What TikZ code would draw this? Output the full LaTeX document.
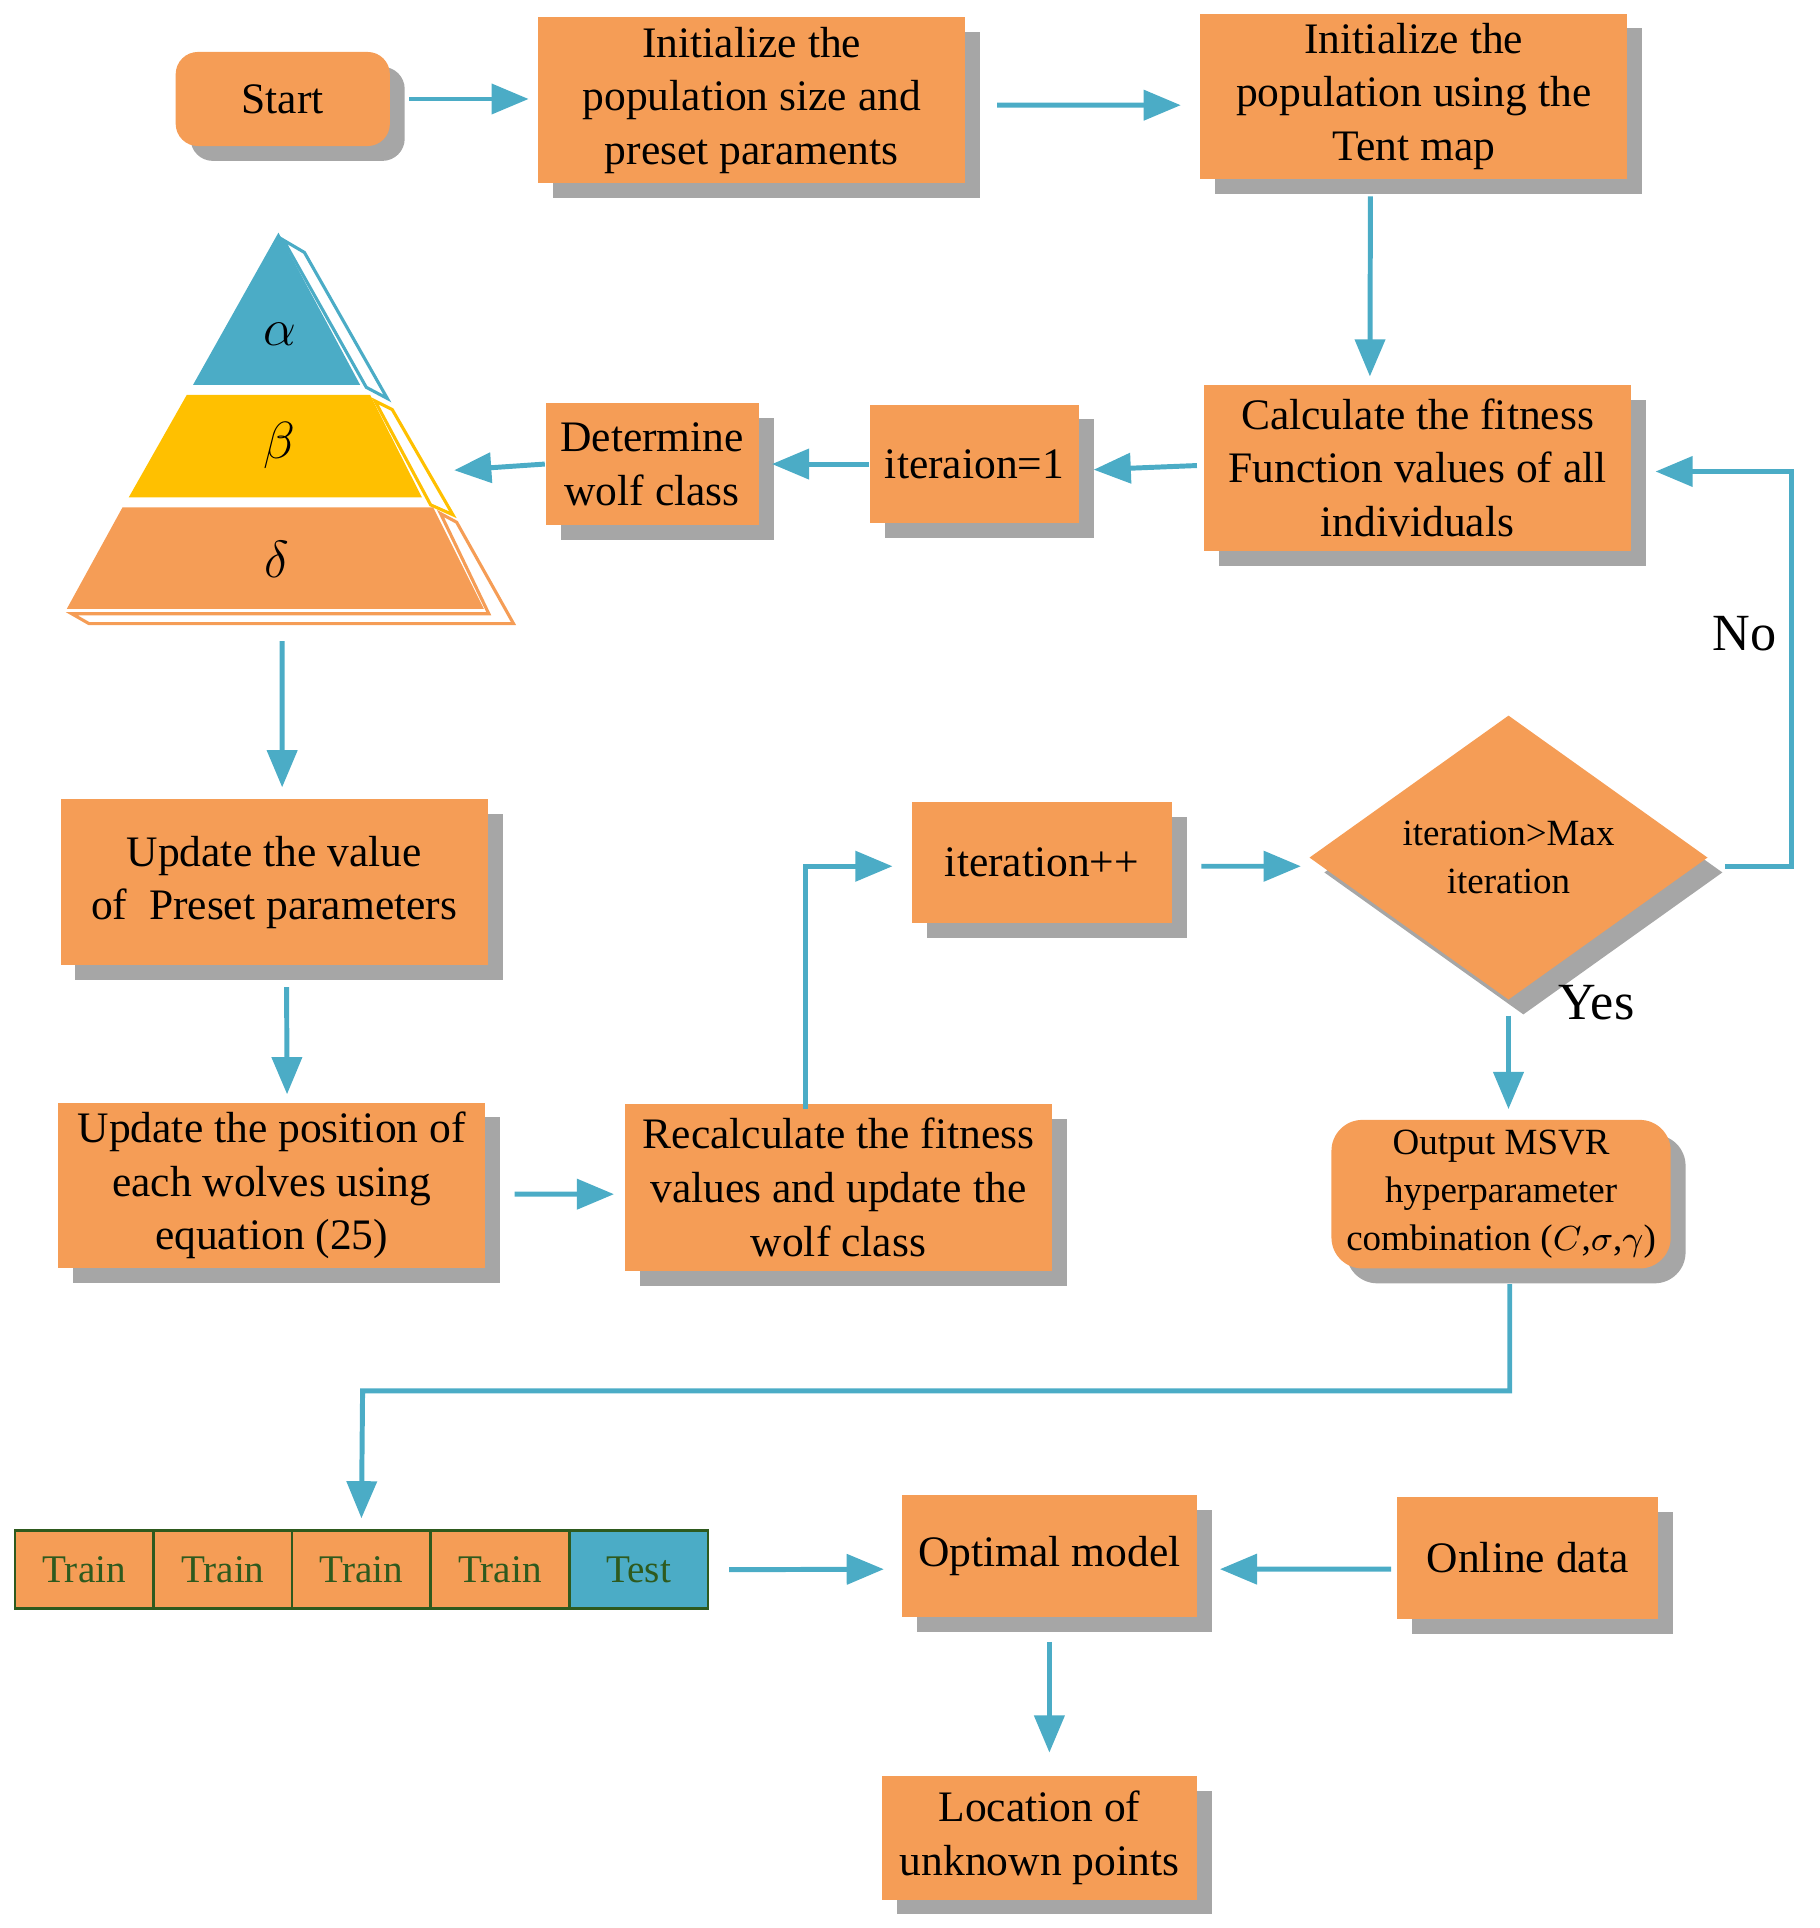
\documentclass[tikz,border=0pt]{standalone}
\usepackage{fontspec}
\setmainfont{Liberation Serif}
\usetikzlibrary{arrows.meta,shapes.geometric,shadows}
\definecolor{org}{HTML}{F59D56}
\definecolor{blu}{HTML}{4BACC6}
\definecolor{yel}{HTML}{FFC000}
\definecolor{shd}{HTML}{A6A6A6}
\definecolor{dgr}{HTML}{2E5A1E}
\begin{document}
\begin{tikzpicture}[x=0.01cm,y=-0.01cm,
  box/.style={fill=org,align=center,inner sep=0pt,font=\fontsize{10}{12.3}\selectfont,
    drop shadow={shadow xshift=0.12cm,shadow yshift=-0.12cm,fill=shd,opacity=1}},
  arr/.style={draw=blu,line width=0.04cm,-{Triangle[length=0.3cm,width=0.24cm]}},
  cell/.style={draw=dgr,line width=0.6pt,minimum width=1.12cm,minimum height=0.63cm,inner sep=0pt,
    text=dgr,font=\fontsize{9}{10}\selectfont}]
\useasboundingbox (0,0) rectangle (1470,1558);
% nodes
\node[box,rounded corners=0.18cm,minimum width=1.73cm,minimum height=0.76cm] (start) at (228.5,80) {Start};
\node[box,minimum width=3.45cm,minimum height=1.34cm] (init1) at (607.5,81) {Initialize the\\population size and\\preset paraments};
\node[box,minimum width=3.45cm,minimum height=1.34cm] (init2) at (1142.5,78) {Initialize the\\population using the\\Tent map};
\node[box,minimum width=3.45cm,minimum height=1.34cm] (calc) at (1145.5,378) {Calculate the fitness\\Function values of all\\individuals};
\node[box,minimum width=1.69cm,minimum height=0.96cm] (it1) at (787.5,375) {iteraion=1};
\node[box,minimum width=1.72cm,minimum height=0.98cm] (det) at (527,375) {Determine\\wolf class};
\node[box,minimum width=3.45cm,minimum height=1.34cm] (updval) at (221.5,713) {Update the value\\of\ \ Preset parameters};
\node[box,minimum width=3.45cm,minimum height=1.34cm] (updpos) at (219.5,958) {Update the position of\\each wolves using\\equation (25)};
\node[box,minimum width=3.45cm,minimum height=1.35cm] (recalc) at (677.5,959.5) {Recalculate the fitness\\values and update the\\wolf class};
\node[box,minimum width=2.10cm,minimum height=0.98cm] (itpp) at (842,697) {iteration++};
\node[box,diamond,minimum width=3.22cm,minimum height=1.53cm,font=\fontsize{8.5}{11}\selectfont] (dia) at (1219,693) {iteration>Max\\iteration};
\node[box,rounded corners=0.25cm,minimum width=2.74cm,minimum height=1.20cm,font=\fontsize{8.5}{11}\selectfont] (out) at (1213,965) {Output MSVR\\hyperparameter\\combination ($C$,$\sigma$,$\gamma$)};
\node[box,minimum width=2.38cm,minimum height=0.99cm] (opt) at (848,1257.5) {Optimal model};
\node[box,minimum width=2.11cm,minimum height=0.98cm] (online) at (1234.5,1259) {Online data};
\node[box,minimum width=2.54cm,minimum height=1.00cm] (loc) at (840,1485) {Location of\\unknown points};
\node[cell,fill=org] (t1) at (68,1268.5) {Train};
\node[cell,fill=org] (t2) at (180,1268.5) {Train};
\node[cell,fill=org] (t3) at (292,1268.5) {Train};
\node[cell,fill=org] (t4) at (404,1268.5) {Train};
\node[cell,fill=blu] (t5) at (516,1268.5) {Test};
% pyramid
\fill[blu] (225,188)--(291,311)--(156,311)--cycle;
\draw[blu,line width=0.025cm,fill=white] (229,194)--(246,204)--(313,322)--(296,313)--cycle;
\fill[yel] (151,319)--(299,319)--(341,402)--(104,402)--cycle;
\draw[yel,line width=0.025cm,fill=white] (303,324)--(317,331)--(366,416)--(348,408)--cycle;
\fill[org] (99,410)--(350,410)--(391,492)--(54,492)--cycle;
\draw[org,line width=0.025cm,fill=white] (356,415)--(369,422)--(415,504)--(72,504)--(58,496)--(395,496)--cycle;
\node at (226,270) {\fontsize{13}{13}\selectfont$\alpha$};
\node at (226,360) {\fontsize{13}{13}\selectfont$\beta$};
\node at (224,452) {\fontsize{13}{13}\selectfont$\delta$};
\coordinate (pyrB) at (228,518);
\coordinate (pyrR) at (367,380);
% arrows
\draw[arr,shorten <=0.15cm,shorten >=0.07cm] (start.east) -- (init1.west|-start.east);
\draw[arr,shorten <=0.25cm,shorten >=0.15cm] (init1.east|-init2.west) ++(0,7) -- ([yshift=-0.07cm]init2.west);
\draw[arr,shorten <=0.13cm,shorten >=0.06cm] ([xshift=-0.35cm]init2.south) -- ([xshift=-0.385cm]calc.north);
\draw[arr,shorten <=0.05cm,shorten >=0.11cm] ([yshift=0.02cm]calc.west) -- ([yshift=-0.05cm]it1.east);
\draw[arr,shorten >=0.1cm] (it1.west) -- (det.east);
\draw[arr] (det.west) -- (pyrR);
\draw[arr,shorten >=0.09cm] (pyrB) -- ([xshift=0.065cm]updval.north);
\draw[arr,shorten <=0.17cm,shorten >=0.06cm] ([xshift=0.1cm]updval.south) -- ([xshift=0.125cm]updpos.north);
\draw[arr,shorten <=0.23cm,shorten >=0.08cm] ([yshift=-0.07cm]updpos.east) -- ([yshift=-0.055cm]recalc.west);
\draw[arr,shorten >=0.15cm] ([xshift=-0.265cm,yshift=-0.05cm]recalc.north) |- ([yshift=-0.03cm]itpp.west);
\draw[arr,shorten <=0.23cm,shorten >=0.06cm] ([yshift=-0.03cm]itpp.east) -- ([yshift=-0.07cm]dia.west);
\draw[arr,shorten <=0.13cm,shorten >=0.19cm] ([yshift=-0.07cm]dia.east) -- ++(67,0) |- ([yshift=-0.03cm]calc.east);
\draw[arr,shorten <=0.06cm,shorten >=0.08cm] ([yshift=-0.06cm]dia.south) -- (dia.south|-out.north);
\draw[arr,shorten >=0.09cm] ([xshift=0.07cm,yshift=-0.12cm]out.south) |- (293,1124) -- (t3.north);
\draw[arr,shorten <=0.16cm,shorten >=0.14cm] (t5.east) -- ([yshift=-0.105cm]opt.west);
\draw[arr,shorten <=0.04cm,shorten >=0.18cm] ([yshift=-0.09cm]online.west) -- ([yshift=-0.105cm]opt.east);
\draw[arr,shorten <=0.19cm,shorten >=0.18cm] (opt.south) -- (opt.south|-loc.north);
\node[font=\fontsize{12}{12}\selectfont] at (1410,512) {No};
\node[font=\fontsize{12}{12}\selectfont] at (1290,810) {Yes};
\end{tikzpicture}
\end{document}
